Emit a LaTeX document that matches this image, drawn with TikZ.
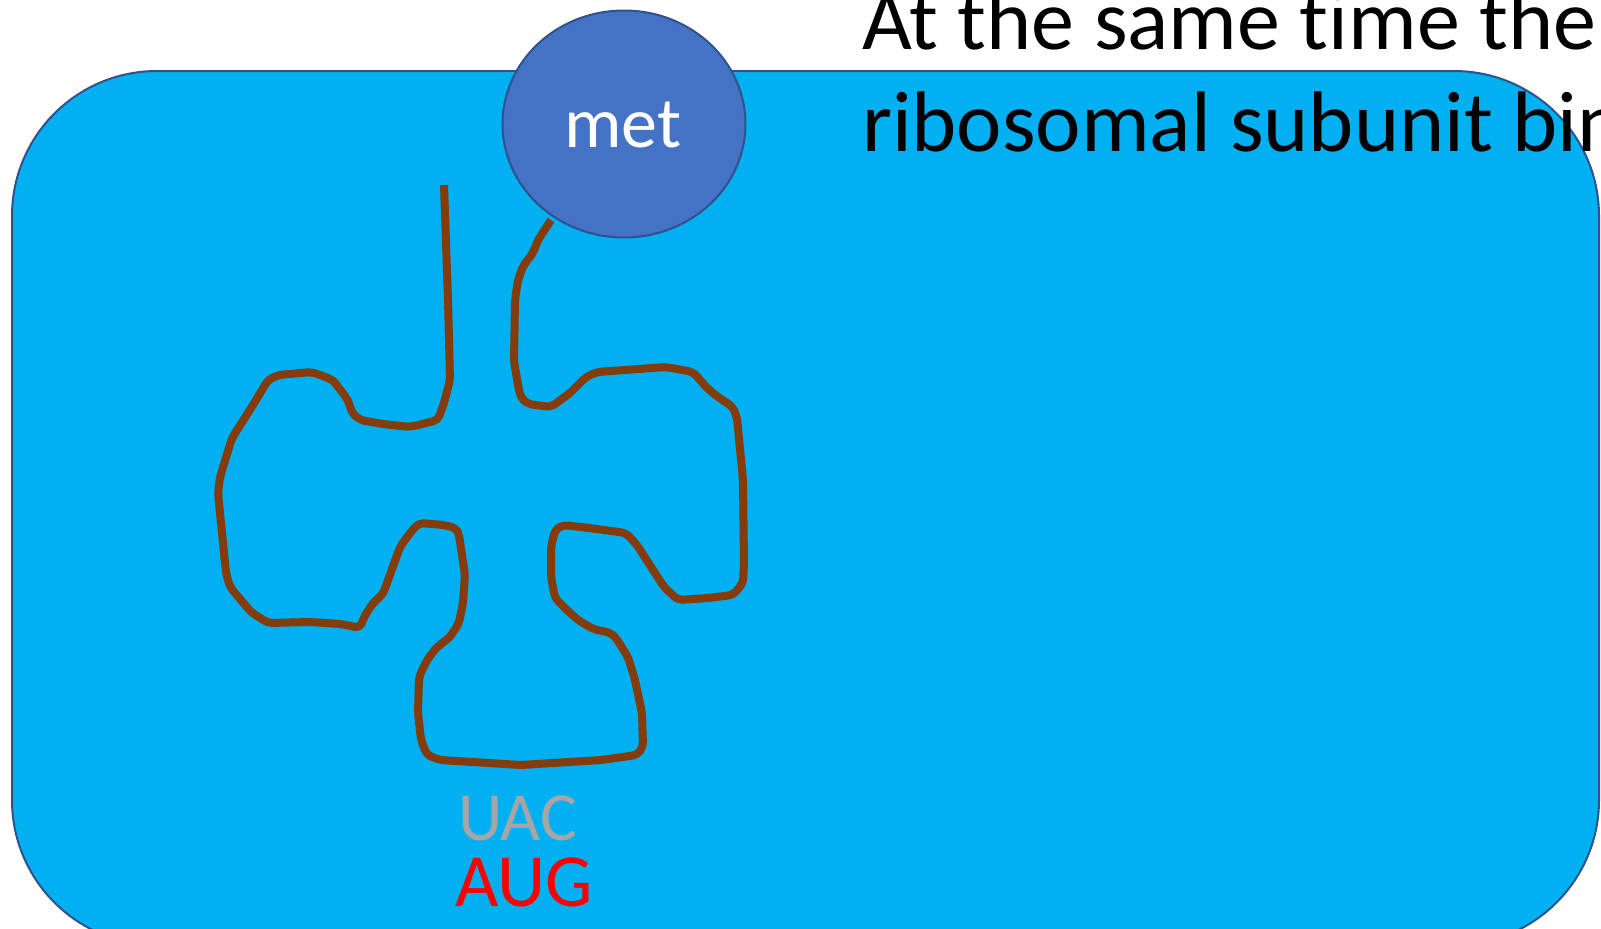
\documentclass[tikz,border=0pt]{standalone}
\usepackage{fontspec}
\setmainfont{Carlito}[Ligatures={NoCommon}]
\usetikzlibrary{shapes.geometric}
\definecolor{cellblue}{HTML}{00B0F0}
\definecolor{edgeblue}{HTML}{2F528F}
\definecolor{aablue}{HTML}{4472C4}
\definecolor{trnabrown}{HTML}{843C0C}
\definecolor{anticodon}{HTML}{A6A6A6}
\tikzset{
  cellbox/.style={fill=cellblue, draw=edgeblue, line width=2pt, rounded corners=145pt},
  aminoacid/.style={ellipse, fill=aablue, draw=edgeblue, line width=2pt,
    minimum width=243pt, minimum height=227pt, inner sep=0pt},
  aalabel/.style={anchor=base, inner sep=0pt, outer sep=0pt, text=white,
    font=\fontsize{72}{80}\selectfont},
  trna/.style={draw=trnabrown, line width=8pt, line join=round, line cap=butt, rounded corners=5pt},
  caption/.style={anchor=base west, inner sep=0pt, outer sep=0pt, text=black,
    font=\fontsize{86}{101}\selectfont},
  codon/.style={anchor=base west, inner sep=0pt, outer sep=0pt},
}
\begin{document}
\begin{tikzpicture}[x=1pt, y=-1pt]
\useasboundingbox (0,0) rectangle (1601,929);
\clip (0,0) rectangle (1601,929);
% cytoplasm background
\draw[cellbox] (12,71) rectangle (1599,945);
% heading text
\node[caption] (line1) at (862,49) {At the same t\kern0pt ime the small};
\node[caption] (line2) at (862,151) {ribosomal subunit binds};
% tRNA cloverleaf
\draw[trna] (444,185) -- (448,300) -- (450,380) -- (444,403) -- (438,420) -- (410,427)
  -- (383,424) -- (360,420) -- (352,413) -- (348,400) -- (333,380) -- (312,372)
  -- (278,375) -- (268,380) -- (253,405) -- (232,438) -- (220,477) -- (218,493)
  -- (226,573) -- (230,587) -- (251,612) -- (268,623) -- (310,622) -- (341,624)
  -- (360,628) -- (364,617) -- (373,603) -- (383,594) -- (400,547) -- (410,533)
  -- (419,523) -- (444,525) -- (456,528) -- (459,535) -- (465,575) -- (463,603)
  -- (459,623) -- (450,637) -- (436,648) -- (427,660) -- (419,677) -- (418,713)
  -- (421,740) -- (427,755) -- (440,760) -- (521,765) -- (601,760) -- (637,755)
  -- (643,747) -- (642,713) -- (635,680) -- (628,657) -- (616,638) -- (611,633)
  -- (593,629) -- (578,620) -- (567,610) -- (555,598) -- (551,577) -- (551,547)
  -- (555,530) -- (563,525) -- (589,528) -- (626,533) -- (637,545) -- (664,587)
  -- (678,600) -- (708,598) -- (733,595) -- (743,583) -- (744,563) -- (743,480)
  -- (737,418) -- (733,407) -- (718,397) -- (708,389) -- (693,372) -- (666,367)
  -- (597,372) -- (586,377) -- (570,393) -- (551,407) -- (528,404) -- (521,398)
  -- (519,390) -- (514,362) -- (515,300) -- (518,280) -- (523,266) -- (533,253)
  -- (538,240) -- (551,220);
% amino acid
\node[aminoacid] (met) at (624,124) {};
\node[aalabel] (metname) at (623,147) {met};
% anticodon and codon
\node[codon, text=anticodon, font=\fontsize{69}{80}\selectfont] (uac) at (458,840) {UAC};
\node[codon, text=red, font=\fontsize{75}{80}\selectfont] (aug) at (455,906) {AUG};
\end{tikzpicture}
\end{document}
